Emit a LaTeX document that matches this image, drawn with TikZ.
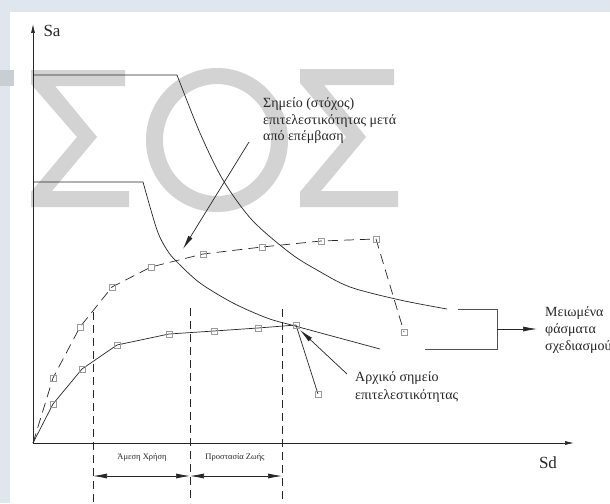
\documentclass[tikz,border=0pt]{standalone}
\usepackage{fontspec}
\setmainfont{Liberation Serif}
\usetikzlibrary{arrows.meta}
\definecolor{bgc}{HTML}{DFE6EE}
\definecolor{wm}{HTML}{D3D3D3}
\definecolor{wmdark}{HTML}{C9CED3}
\definecolor{sqc}{HTML}{9A9A9A}
\definecolor{ln}{HTML}{262626}
\begin{document}
\begin{tikzpicture}[x=1pt,y=-1pt,
  curve/.style={draw=ln, line width=0.7pt},
  dashcurve/.style={draw=ln, line width=0.7pt, dash pattern=on 10pt off 6pt},
  vdash/.style={draw=ln, line width=0.6pt, dash pattern=on 8pt off 5pt},
  sq/.style={draw=sqc, rectangle, minimum size=6pt, inner sep=0pt, line width=0.5pt},
  lbl/.style={font=\fontsize{14}{16.5}\selectfont, align=left, inner sep=0pt, text=ln},
  small/.style={font=\fontsize{8.5}{10}\selectfont, inner sep=0pt, text=ln},
  axlbl/.style={font=\fontsize{17}{19}\selectfont, inner sep=0pt, text=ln},
  bigarrow/.style={-{Latex[length=14pt,width=5pt]}, draw=ln, line width=0.7pt},
  dimarrow/.style={{Latex[length=14pt,width=5pt]}-{Latex[length=14pt,width=5pt]}, draw=ln, line width=0.7pt},
  axarrow/.style={-{Latex[length=9pt,width=4pt]}, draw=ln, line width=0.7pt}
]
\useasboundingbox (0,0) rectangle (610,503);
\fill[bgc] (0,0) rectangle (610,503);
\fill[white] (10,12) rectangle (610,503);
% watermark
\fill[wmdark] (0,70) rectangle (14,86);
\fill[wm] (31,70) -- (125,70) -- (125,86) -- (55,86) -- (97,137) -- (52,191) -- (129,191) -- (129,207) -- (31,207) -- (31,192) -- (77,137) -- (31,84) -- cycle;
\fill[wm, even odd rule] (217,140) ellipse [x radius=71pt, y radius=72pt] (217,140) ellipse [x radius=54pt, y radius=56pt];
\begin{scope}[xshift=269pt]
\fill[wm] (31,69) -- (125,69) -- (125,85) -- (55,85) -- (97,137) -- (52,191) -- (129,191) -- (129,207) -- (31,207) -- (31,192) -- (77,137) -- (31,83) -- cycle;
\end{scope}

% axes
\coordinate (O) at (33,443);
\coordinate (ytop) at (33,24);
\coordinate (xend) at (574,443);
\draw[axarrow] (O) -- (ytop);
\draw[axarrow] (O) -- (xend);
\node[axlbl] (Sa) at (52,31) {Sa};
\node[axlbl] (Sd) at (548,463) {Sd};

% design spectra
\draw[curve] (33,75) -- (177,75) plot[smooth] coordinates {(177,75) (200,133) (223,180) (252,220) (290,253) (317,270) (350,287) (400,300) (447,309)};
\draw[curve] (33,182) -- (143,182) plot[smooth] coordinates {(143,182) (157,230) (167,250) (177,262) (200,283) (233,303) (267,318) (295,326) (380,349)};

% bracket
\coordinate (b1) at (458,309);
\coordinate (b2) at (497,309);
\coordinate (b3) at (497,349);
\coordinate (b4) at (425,349);
\coordinate (bm) at (497,329);
\draw[draw=ln!80, line width=0.8pt] (b1) -- (b2) -- (b3) -- (b4);
\node[lbl, anchor=west, font=\fontsize{14}{17}\selectfont] (red) at (545,330) {Μειωμένα\\φάσματα\\σχεδιασμού};
\draw[bigarrow] (bm) -- (537,329);

% capacity curve after retrofit (dashed)
\draw[dashcurve] (O) -- (53,378) -- (80,327) -- (112,287) -- (151,267) -- (203,254) -- (262,247) -- (321,241) -- (376,239) -- (404,332);
\foreach \p in {(53,378),(80,327),(112,287),(151,267),(203,254),(262,247),(321,241),(376,239),(404,332)}
  \node[sq] at \p {};

% initial capacity curve
\draw[curve] (O) -- (53,404) -- (82,369) -- (117,345) -- (169,334) -- (214,331) -- (258,328) -- (296,325) -- (318,394);
\foreach \p in {(53,404),(82,369),(117,345),(169,334),(214,331),(258,328),(296,325),(318,394)}
  \node[sq] at \p {};

% performance levels
\coordinate (v1t) at (93,312); \coordinate (v1b) at (93,503);
\coordinate (v2t) at (190,308); \coordinate (v2b) at (190,503);
\coordinate (v3t) at (282,309); \coordinate (v3b) at (282,503);
\draw[vdash] (v1t) -- (v1b);
\draw[vdash] (v2t) -- (v2b);
\draw[vdash] (v3t) -- (v3b);
\coordinate (d1) at (93,476);
\coordinate (d2) at (190,476);
\coordinate (d3) at (282,476);
\draw[dimarrow] (d1) -- (d2);
\draw[dimarrow] (d2) -- (d3);
\node[small] (io) at (142,457) {Άμεση Χρήση};
\node[small] (ls) at (235,457) {Προστασία Ζωής};

% annotations
\node[lbl, anchor=west] (target) at (263,121) {Σημείο (στόχος)\\επιτελεστικότητας μετά\\από επέμβαση};
\coordinate (a1s) at (249,142);
\coordinate (a1e) at (183,249);
\draw[bigarrow] (a1s) -- (a1e);

\node[lbl, anchor=west, font=\fontsize{14}{18}\selectfont] (init) at (355,387) {Αρχικό σημείο\\επιτελεστικότητας};
\coordinate (a2s) at (347,374);
\coordinate (a2e) at (300,330);
\draw[bigarrow] (a2s) -- (a2e);
\end{tikzpicture}
\end{document}
